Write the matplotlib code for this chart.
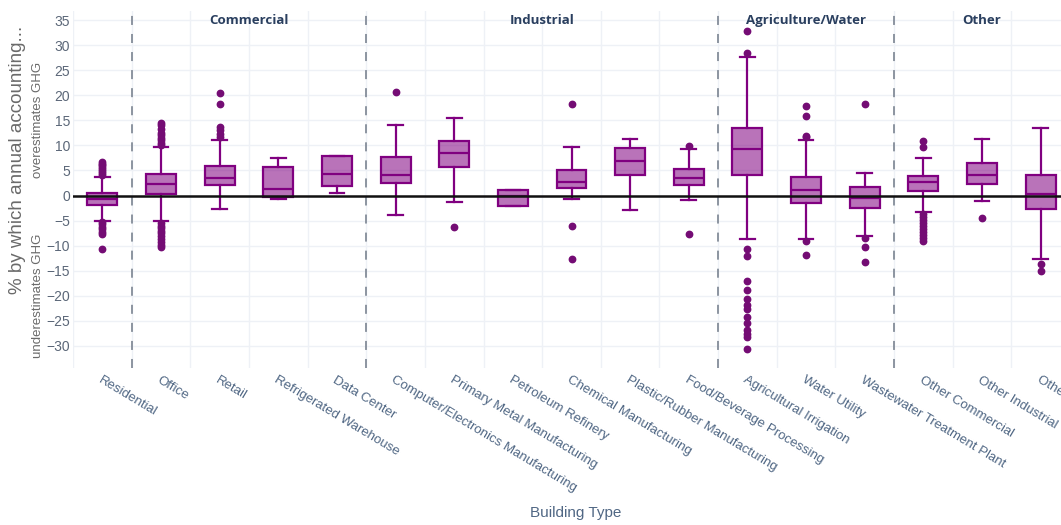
import matplotlib
matplotlib.use("Agg")
import matplotlib.pyplot as plt

# Building types (x categories)
building_types = [
    "Residential", "Office", "Retail", "Refrigerated Warehouse", "Data Center",
    "Computer/Electronics Manufacturing", "Primary Metal Manufacturing",
    "Petroleum Refinery", "Chemical Manufacturing", "Plastic/Rubber Manufacturing",
    "Food/Beverage Processing", "Agricultural Irrigation", "Water Utility",
    "Wastewater Treatment Plant", "Other Commercial", "Other Industrial",
    "Other Agriculture/Water",
]

# Box statistics (% by which annual accounting over/underestimates GHG)
q1 = [-1.8, 0.4, 2.0, -0.2, 1.9, 2.5, 5.6, -2.1, 1.5, 4.1, 2.1, 4.0, -1.4, -2.4, 1.0, 2.2, -2.7]
median = [-0.6, 2.2, 3.5, 1.3, 4.2, 4.1, 8.4, -0.1, 2.6, 6.9, 3.5, 9.3, 1.1, -0.4, 2.7, 4.1, 0.4]
q3 = [0.6, 4.2, 5.8, 5.6, 7.8, 7.7, 10.8, 1.1, 5.0, 9.4, 5.2, 13.5, 3.6, 1.6, 3.8, 6.4, 4.1]
whisker_low = [-5.0, -5.0, -2.6, -0.6, 0.6, -3.9, -1.3, -2.1, -0.7, -2.8, -0.9, -8.7, -8.7, -8.0, -3.2, -1.1, -12.7]
whisker_high = [3.7, 9.6, 11.1, 7.5, 7.9, 14.1, 15.4, 1.1, 9.7, 11.2, 9.3, 27.7, 11.1, 4.4, 7.5, 11.3, 13.4]
outliers = [
    [6.6, 6.3, 6.0, 5.6, 5.2, 4.8, 4.4, 4.0, -5.3, -5.7, -6.2, -6.7, -7.2, -7.6, -10.6],
    [14.4, 14.0, 13.2, 12.5, 12.0, 11.5, 11.0, 10.5, 10.0,
     -5.5, -6.0, -6.5, -7.0, -7.5, -8.0, -8.6, -9.2, -9.8, -10.2],
    [20.5, 18.3, 13.7, 13.0, 12.3, 11.6],
    [],
    [],
    [20.6],
    [-6.2],
    [],
    [18.3, -6.0, -12.7],
    [],
    [9.9, -7.7],
    [32.8, 28.4, -10.7, -12.1, -17.1, -18.8, -20.6, -21.8, -22.7, -24.2, -25.5,
     -26.8, -27.6, -28.3, -30.7],
    [17.9, 15.9, 11.9, 11.6, -9.1, -11.8],
    [18.2, -8.4, -10.3, -13.3],
    [10.9, 9.6, -3.6, -4.2, -4.8, -5.4, -6.0, -6.6, -7.2, -7.8, -8.4, -9.0],
    [-4.5],
    [-13.7, -15.1],
]

# Sector groups: (label, first index, last index)
groups = [("Commercial", 1, 4), ("Industrial", 5, 10),
          ("Agriculture/Water", 11, 13), ("Other", 14, 16)]
separators = [0.5, 4.5, 10.5, 13.5]

y_ticks = list(range(-30, 36, 5))

LINE = "#800080"
FILL = (128 / 255, 0, 128 / 255, 0.55)
MARK = "#740c74"
TICK_COLOR = "#5b6778"
LABEL_COLOR = "#506784"

plt.rcParams["font.family"] = ["Liberation Sans", "DejaVu Sans"]

fig = plt.figure(figsize=(10.61, 5.25), dpi=100)
ax = fig.add_axes([73 / 1061, 1 - 368 / 525, 997 / 1061, 357 / 525])

stats = []
for i, name in enumerate(building_types):
    stats.append(dict(label=name, q1=q1[i], med=median[i], q3=q3[i],
                      whislo=whisker_low[i], whishi=whisker_high[i],
                      fliers=outliers[i]))

positions = list(range(len(building_types)))
ax.bxp(stats, positions=positions, widths=0.51, capwidths=0.25,
       patch_artist=True, showfliers=True,
       boxprops=dict(facecolor=FILL, edgecolor=LINE, linewidth=1.6),
       medianprops=dict(color=LINE, linewidth=1.6),
       whiskerprops=dict(color=LINE, linewidth=1.6),
       capprops=dict(color=LINE, linewidth=1.6),
       flierprops=dict(marker="o", markersize=4.6, markerfacecolor=MARK,
                       markeredgecolor=MARK, linestyle="none"),
       zorder=3)

ax.set_xlim(-0.5, len(building_types) - 0.5)
ax.set_ylim(-34.4, 36.8)

# grid
for y in y_ticks:
    ax.axhline(y, color="#eef1f6", linewidth=1, zorder=0)
for k in range(len(building_types) + 1):
    ax.axvline(k - 0.5, color="#eef1f6", linewidth=1, zorder=0)
ax.axhline(0, color="#111111", linewidth=1.8, zorder=4)
for s in separators:
    ax.axvline(s, color="#848d99", linewidth=1.3, linestyle=(0, (5, 5)), zorder=1)

for sp in ax.spines.values():
    sp.set_visible(False)

ax.set_yticks(y_ticks)
ax.set_yticklabels([str(v).replace("-", "\u2212") for v in y_ticks])
ax.tick_params(axis="y", length=0, pad=2, labelsize=10, labelcolor=TICK_COLOR)
ax.set_xticks(positions)
ax.set_xticklabels([])
ax.tick_params(axis="x", length=0)

# rotated category labels
for i, name in enumerate(building_types):
    ax.annotate(name, xy=(i, 0), xycoords=("data", "axes fraction"),
                xytext=(-3, -11), textcoords="offset pixels",
                rotation=-31, rotation_mode="anchor", ha="left", va="center",
                fontsize=9.5, color=LABEL_COLOR, annotation_clip=False)

for label, a, b in groups:
    ax.text((a + b) / 2, 35, label, ha="center", va="center", fontsize=9.5,
            fontweight="bold", color="#2a3f5f", family=["Open Sans", "DejaVu Sans"],
            zorder=5)

fig.text(576 / 1061, 1 - 513 / 525, "Building Type", ha="center", va="center",
         fontsize=11, color=LABEL_COLOR)
fig.text(18 / 1061, 1 - 160 / 525, "% by which annual accounting...", rotation=90,
         ha="center", va="center", fontsize=13.5, color="#6a6a6a")
fig.text(38 / 1061, 1 - 120 / 525, "overestimates GHG", rotation=90,
         ha="center", va="center", fontsize=9.5, color="#6a6a6a")
fig.text(38 / 1061, 1 - 296 / 525, "underestimates GHG", rotation=90,
         ha="center", va="center", fontsize=9.5, color="#6a6a6a")

fig.savefig("out.png", dpi=100)
